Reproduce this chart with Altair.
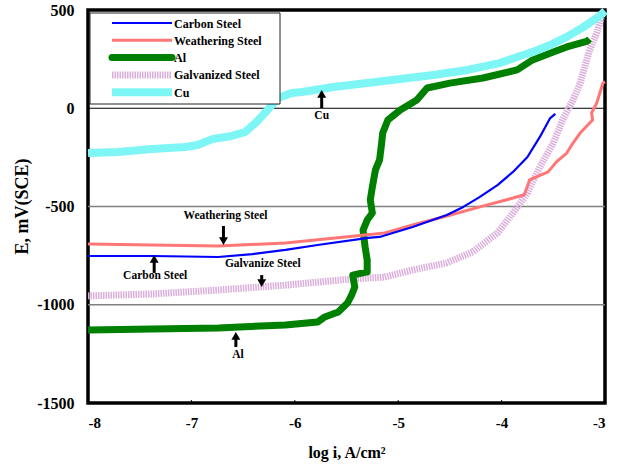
import altair as alt
import pandas as pd

# ---------------- data ----------------
carbon_x = [-8, -7.38, -6.74, -6.41, -6.09, -5.78, -5.29, -5.18, -4.86, -4.53, -4.37, -4.21, -4.04, -3.89, -3.75, -3.63, -3.53, -3.48]
carbon_e = [-752, -752, -757, -742, -721, -696, -660, -655, -604, -543, -502, -451, -391, -324, -248, -146, -50, -29]

weather_x = [-8, -7.38, -6.74, -6.09, -5.61, -5.13, -4.86, -4.53, -4.21, -3.89, -3.78, -3.73, -3.55, -3.47, -3.37, -3.31, -3.24, -3.12, -3.13, -3.08, -3.02, -3.0]
weather_e = [-691, -696, -701, -686, -660, -635, -594, -548, -502, -457, -440, -365, -324, -273, -228, -177, -126, -60, -24, 27, 128, 135]

al_x = [-8, -7.38, -6.74, -6.09, -5.78, -5.71, -5.58, -5.49, -5.45, -5.42, -5.44, -5.30, -5.30, -5.32, -5.34, -5.30, -5.25, -5.27, -5.25, -5.22, -5.18, -5.16, -5.15, -5.10, -4.98, -4.82, -4.72, -4.50, -4.18, -3.85, -3.70, -3.50, -3.37, -3.17, -3.15]
al_e = [-1129, -1124, -1118, -1103, -1088, -1062, -1037, -991, -950, -910, -849, -833, -772, -706, -620, -569, -533, -467, -401, -314, -263, -177, -126, -60, -9, 42, 103, 128, 154, 195, 246, 286, 312, 342, 352]

galv_x = [-8, -7.38, -6.74, -6.09, -5.45, -5.13, -4.86, -4.53, -4.28, -4.04, -3.89, -3.75, -3.63, -3.50, -3.41, -3.31, -3.24, -3.15, -3.08, -3.02]
galv_e = [-955, -945, -925, -900, -869, -859, -823, -787, -731, -635, -533, -431, -299, -177, -60, 42, 128, 296, 383, 490]

cu_x = [-8, -7.71, -7.38, -7.06, -6.94, -6.80, -6.61, -6.48, -6.38, -6.29, -6.22, -6.16, -6.03, -5.93, -5.63, -5.30, -4.98, -4.66, -4.33, -4.02, -3.85, -3.70, -3.53, -3.37, -3.21, -3.05, -3.0]
cu_e = [-228, -223, -207, -197, -187, -157, -141, -121, -75, -24, 17, 52, 78, 83, 108, 128, 149, 169, 195, 230, 261, 286, 322, 363, 413, 470, 495]

series_names = ["Carbon Steel", "Weathering Steel", "Al", "Galvanized Steel", "Cu"]
series_colors = ["#0000ff", "#ff7676", "#008000", "#dcaedc", "#7ff6f6"]
series_widths = [2.2, 3, 7, 7, 8]

grid_vals = [0, -500, -1000]
grid_cols = ["#000000", "#808080", "#808080"]
grid_widths = [1, 1.5, 1.5]

x_ticks = [-8, -7, -6, -5, -4, -3]
y_ticks = [-1500, -1000, -500, 0, 500]

ann_text = ["Cu", "Weathering Steel", "Carbon Steel", "Galvanize Steel", "Al"]
ann_tx = [-5.74, -6.67, -7.35, -6.31, -6.55]
ann_ty = [-40, -548, -854, -793, -1256]
arr_x = [-5.74, -6.69, -7.36, -6.32, -6.57]
arr_base = [1, -599, -838, -849, -1215]
arr_tip = [93, -696, -747, -910, -1139]

# ---------------- chart ----------------
FONT = "Liberation Serif"
xscale = alt.Scale(domain=[-8, -3], nice=False, zero=False)
yscale = alt.Scale(domain=[-1500, 500], nice=False, zero=False)
xaxis = alt.Axis(values=x_ticks, title="log i, A/cm²", labelPadding=12, titlePadding=14,
                 labelFontSize=15, titleFontSize=16, labelExpr="'' + datum.value")
yaxis = alt.Axis(values=y_ticks, title="E, mV(SCE)", labelPadding=14, labelFontSize=16,
                 titleFontSize=18, titleX=-66, titleY=196, titleAngle=-90,
                 titleAlign="center", titleBaseline="middle", labelExpr="'' + datum.value")


def X(f):
    return alt.X(f, scale=xscale, axis=xaxis)


def Y(f):
    return alt.Y(f, scale=yscale, axis=yaxis)


layers = []

# gridlines
grid_df = pd.DataFrame({"E": grid_vals, "c": grid_cols, "w": grid_widths})
layers.append(alt.Chart(grid_df).mark_rule().encode(
    y=Y("E:Q"), color=alt.Color("c:N", scale=None),
    strokeWidth=alt.StrokeWidth("w:Q", scale=None)))

# small inward ticks on the x axis
tick_df = pd.DataFrame({"logi": x_ticks[1:-1], "E": [-1500] * 4, "E2": [-1485] * 4})
layers.append(alt.Chart(tick_df).mark_rule(color="black", strokeWidth=1).encode(
    x=X("logi:Q"), y=Y("E:Q"), y2="E2"))

data_by_name = {
    "Carbon Steel": (carbon_x, carbon_e),
    "Weathering Steel": (weather_x, weather_e),
    "Al": (al_x, al_e),
    "Galvanized Steel": (galv_x, galv_e),
    "Cu": (cu_x, cu_e),
}
style = {n: (c, w) for n, c, w in zip(series_names, series_colors, series_widths)}
draw_order = ["Galvanized Steel", "Al", "Cu", "Weathering Steel", "Carbon Steel"]
for name in draw_order:
    xs, es = data_by_name[name]
    df = pd.DataFrame({"logi": xs, "E": es, "idx": list(range(len(xs)))})
    c, w = style[name]
    kw = dict(color=c, strokeWidth=w, strokeJoin="round", strokeCap="butt")
    if name == "Galvanized Steel":
        kw["strokeDash"] = [1.5, 1]
    layers.append(alt.Chart(df).mark_line(**kw).encode(
        x=X("logi:Q"), y=Y("E:Q"), order="idx:Q"))

# annotations
ann_df = pd.DataFrame({"t": ann_text, "logi": ann_tx, "E": ann_ty})
layers.append(alt.Chart(ann_df).mark_text(font=FONT, fontWeight="bold", fontSize=11.5,
                                          color="black", baseline="middle").encode(
    x=X("logi:Q"), y=Y("E:Q"), text="t:N"))

head = 26  # mV offset of arrowhead centre from the tip
shaft_end = [t - head if t > b else t + head for b, t in zip(arr_base, arr_tip)]
head_pos = [t - 20 if t > b else t + 20 for b, t in zip(arr_base, arr_tip)]
shape = ["triangle-up" if t > b else "triangle-down" for b, t in zip(arr_base, arr_tip)]
arr_df = pd.DataFrame({"logi": arr_x, "E": arr_base, "E2": shaft_end, "H": head_pos, "s": shape})
layers.append(alt.Chart(arr_df).mark_rule(color="black", strokeWidth=3).encode(
    x=X("logi:Q"), y=Y("E:Q"), y2="E2"))
layers.append(alt.Chart(arr_df).mark_point(filled=True, color="black", opacity=1, size=80).encode(
    x=X("logi:Q"), y=Y("H:Q"), shape=alt.Shape("s:N", scale=None)))

# legend box (manual)
one = pd.DataFrame({"a": [0]})
layers.append(alt.Chart(one).mark_rect(fill="white", stroke="#222222", strokeWidth=1).encode(
    x=alt.value(2), x2=alt.value(192), y=alt.value(3), y2=alt.value(94)))
for i, name in enumerate(series_names):
    c, w = style[name]
    yy = 13 + i * 17.3
    kw = dict(color=c, strokeWidth=w, strokeCap="round" if name == "Al" else "butt")
    if name == "Galvanized Steel":
        kw["strokeDash"] = [1.5, 1]
    layers.append(alt.Chart(one).mark_rule(**kw).encode(
        x=alt.value(24), x2=alt.value(84), y=alt.value(yy)))
    layers.append(alt.Chart(one).mark_text(font=FONT, fontWeight="bold", fontSize=12,
                                           align="left", baseline="middle", color="black").encode(
        x=alt.value(86), y=alt.value(yy + 0.5), text=alt.value(name)))

chart = alt.layer(*layers).properties(
    width=517, height=393,
    autosize=alt.AutoSizeParams(type="none"),
    padding={"left": 88, "top": 10, "right": 14, "bottom": 66},
    background="white",
).configure_view(stroke="black", strokeWidth=3.5).configure_axis(
    domain=False, ticks=False, grid=False,
    labelFont=FONT, labelFontWeight="bold", labelColor="black",
    titleFont=FONT, titleFontWeight="bold", titleColor="black",
)

chart.save("out.html", embed_options={"renderer": "svg", "actions": False})
